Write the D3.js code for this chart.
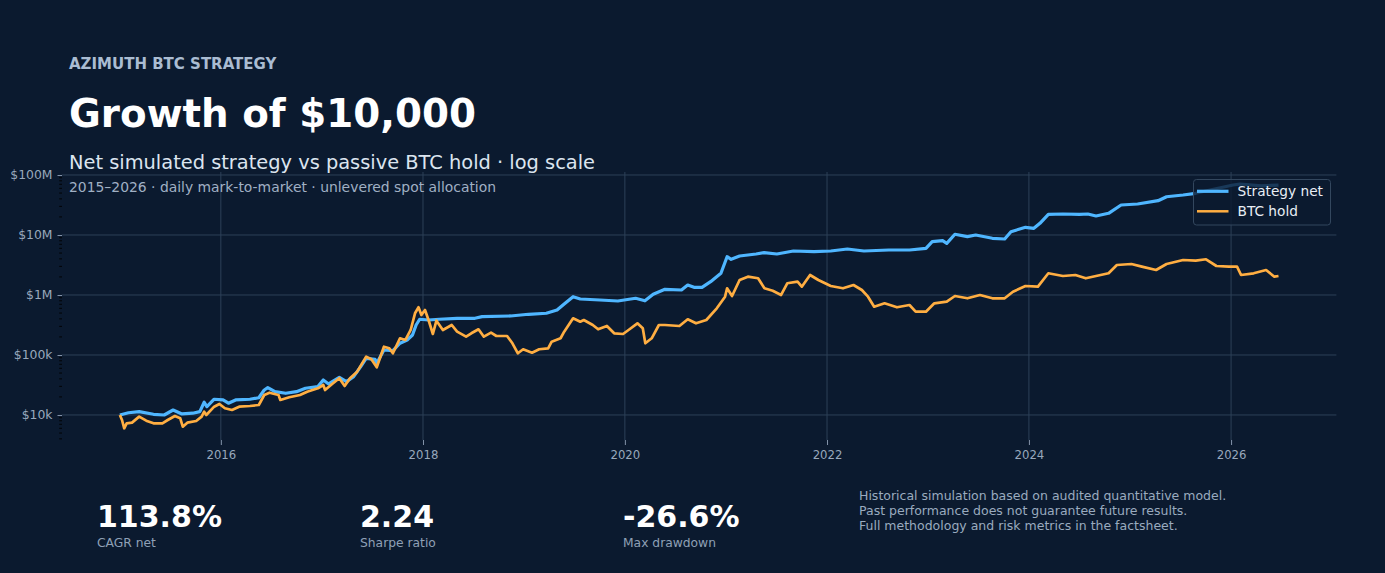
<!DOCTYPE html>
<html><head><meta charset="utf-8">
<script src="https://cdn.jsdelivr.net/npm/d3@7/dist/d3.min.js"></script>
<style>
html,body{margin:0;padding:0;background:#0b1a2f;}
svg{display:block;font-family:"DejaVu Sans",sans-serif;}
</style></head>
<body>
<svg id="c" width="1385" height="573"></svg>
<script>
// ---------- DATA ----------
const stratYears = [2015.000,2015.085,2015.191,2015.333,2015.439,2015.527,2015.615,2015.722,2015.792,2015.835,2015.862,2015.934,2016.022,2016.075,2016.146,2016.287,2016.375,2016.429,2016.464,2016.535,2016.641,2016.747,2016.836,2016.959,2017.012,2017.065,2017.171,2017.242,2017.313,2017.383,2017.437,2017.525,2017.542,2017.613,2017.702,2017.772,2017.843,2017.896,2017.932,2017.967,2018.055,2018.161,2018.338,2018.515,2018.585,2018.868,2019.045,2019.222,2019.328,2019.399,2019.487,2019.558,2019.752,2019.930,2020.106,2020.198,2020.280,2020.396,2020.559,2020.621,2020.683,2020.762,2020.847,2020.949,2021.010,2021.050,2021.134,2021.297,2021.376,2021.503,2021.667,2021.871,2022.037,2022.201,2022.366,2022.612,2022.817,2022.980,2023.042,2023.145,2023.186,2023.267,2023.391,2023.473,2023.638,2023.760,2023.822,2023.966,2024.049,2024.109,2024.192,2024.336,2024.500,2024.582,2024.663,2024.787,2024.911,2025.074,2025.277,2025.361,2025.525,2025.650,2025.759,2026.020,2026.089,2026.300,2026.470];
const stratValues = [10000,10900,11350,10270,10000,12100,10400,10700,11350,16300,13750,18300,17800,15700,17800,18300,19400,26100,28500,24500,23000,24500,27900,29700,38300,32900,42500,35900,43500,63800,88100,84700,72700,121000,118000,157000,178000,215000,316000,394000,383000,394000,409000,409000,435000,447000,477000,496000,562000,708000,937000,857000,825000,794000,881000,800000,1030000,1245000,1212000,1468000,1343000,1343000,1667000,2300000,4345000,3937000,4467000,4823000,5070000,4823000,5410000,5270000,5410000,5845000,5410000,5623000,5623000,6000000,7730000,8040000,7270000,10280000,9380000,10000000,8810000,8580000,11350000,13430000,12930000,15670000,22130000,22390000,22130000,22390000,20730000,23000000,31620000,32850000,37300000,43450000,46420000,49550000,54700000,68100000,70800000,66000000,68000000];

const btcYears = [2015.000,2015.021,2015.043,2015.067,2015.120,2015.191,2015.261,2015.333,2015.421,2015.474,2015.545,2015.598,2015.623,2015.668,2015.756,2015.810,2015.835,2015.856,2015.934,2015.986,2016.040,2016.110,2016.181,2016.287,2016.375,2016.429,2016.481,2016.570,2016.588,2016.676,2016.782,2016.853,2016.959,2017.012,2017.030,2017.100,2017.171,2017.224,2017.277,2017.348,2017.437,2017.489,2017.542,2017.613,2017.666,2017.702,2017.772,2017.826,2017.878,2017.921,2017.956,2017.984,2018.020,2018.055,2018.098,2018.133,2018.197,2018.285,2018.338,2018.427,2018.479,2018.550,2018.603,2018.674,2018.727,2018.833,2018.886,2018.940,2018.992,2019.080,2019.151,2019.240,2019.275,2019.363,2019.399,2019.487,2019.558,2019.593,2019.682,2019.735,2019.822,2019.894,2019.982,2020.036,2020.124,2020.177,2020.202,2020.265,2020.336,2020.396,2020.539,2020.621,2020.703,2020.805,2020.908,2020.990,2021.010,2021.059,2021.134,2021.216,2021.317,2021.380,2021.462,2021.545,2021.606,2021.708,2021.750,2021.832,2021.914,2022.037,2022.158,2022.262,2022.345,2022.406,2022.467,2022.570,2022.693,2022.817,2022.878,2022.980,2023.063,2023.186,2023.267,2023.391,2023.515,2023.638,2023.760,2023.842,2023.966,2024.089,2024.192,2024.336,2024.459,2024.562,2024.663,2024.787,2024.869,2025.013,2025.116,2025.257,2025.361,2025.525,2025.650,2025.752,2025.855,2025.977,2026.059,2026.099,2026.224,2026.347,2026.429,2026.470];
const btcValues = [10000,8250,6000,7270,7450,9380,8040,7270,7270,8250,9620,8810,6380,7450,7940,9380,11350,10000,13750,15250,12930,12120,13750,14130,14680,21540,23530,21540,17780,19720,21540,24450,27860,31620,26100,32850,40900,30430,40900,52700,93800,84700,62400,137500,129300,106700,189900,177800,261000,495500,623700,464200,562300,383000,223900,373500,261000,316200,244500,201800,230000,268000,201800,235500,207300,207300,156700,106700,124500,109200,124500,129300,166700,189900,244500,409000,359000,383000,316200,268000,304300,230000,223900,261000,337300,278600,156700,189900,316200,316200,304300,393700,337300,383000,599500,937000,1293000,962000,1778000,2018000,1899000,1293000,1180000,1000000,1567000,1667000,1375000,2154000,1778000,1413000,1293000,1468000,1212000,937000,638000,727000,623700,681000,527000,527000,727000,773000,962000,881000,1000000,881000,881000,1135000,1413000,1375000,2300000,2073000,2154000,1899000,2073000,2300000,3162000,3285000,2965000,2610000,3285000,3830000,3735000,3937000,3043000,2965000,2965000,2154000,2300000,2610000,2018000,2073000];

const seriesNames = ["Strategy net","BTC hold"];
const yTickValues = [1e4,1e5,1e6,1e7,1e8];
const yTickLabels = ["$10k","$100k","$1M","$10M","$100M"];
const xTickYears = [2016,2018,2020,2022,2024,2026];
const xTickLabels = ["2016","2018","2020","2022","2024","2026"];
const statValues = ["113.8%","2.24","-26.6%"];
const statLabels = ["CAGR net","Sharpe ratio","Max drawdown"];
const noteLines = ["Historical simulation based on audited quantitative model.","Past performance does not guarantee future results.","Full methodology and risk metrics in the factsheet."];

// ---------- HELPERS ----------
function yr(d){const y=Math.floor(d);const s=Date.UTC(y,0,1),e=Date.UTC(y+1,0,1);return new Date(s+(d-y)*(e-s));}

const svg = d3.select("#c");
const W=1385,H=573;
svg.append("rect").attr("width",W).attr("height",H).attr("fill","#0b1a2f");

const L=62,R=1336.4,T=172,B=440;
const allYears = stratYears.concat(btcYears);
const x0=d3.min(allYears), x1=d3.max(allYears), pad=(x1-x0)*0.05;
const x = d3.scaleUtc().domain([yr(x0-pad), yr(x1+pad)]).range([L,R]);
const y = d3.scaleLog().domain([Math.pow(10,3.583), Math.pow(10,8.05)]).range([B,T]);

const grid = svg.append("g");
grid.selectAll("line.h").data(yTickValues).join("line")
  .attr("x1",L).attr("x2",R).attr("y1",d=>y(d)).attr("y2",d=>y(d))
  .attr("stroke","#2d4058").attr("stroke-width",1);
grid.selectAll("line.v").data(xTickYears).join("line")
  .attr("x1",d=>x(yr(d))).attr("x2",d=>x(yr(d))).attr("y1",T).attr("y2",B)
  .attr("stroke","#2d4058").attr("stroke-width",1);

// y axis
const yAxis = d3.axisLeft(y).tickValues(yTickValues).tickFormat((d,i)=>yTickLabels[i]).tickSize(4.5).tickPadding(5);
const gy = svg.append("g").attr("transform",`translate(${L},0)`).call(yAxis);
gy.select(".domain").remove();
gy.selectAll(".tick line").attr("stroke","#8494aa");
gy.selectAll(".tick text").attr("fill","#98a8bc").attr("font-size","12.4px").attr("font-family","DejaVu Sans");
// minor ticks
const minor=[];
for(let e=3;e<=8;e++){for(let k=2;k<=9;k++){const v=k*Math.pow(10,e);const yy=y(v);if(yy<=B&&yy>=T)minor.push(v);}}
svg.append("g").selectAll("line").data(minor).join("line")
  .attr("x1",L-2.8).attr("x2",L).attr("y1",d=>y(d)).attr("y2",d=>y(d))
  .attr("stroke","#000").attr("stroke-width",0.9);

// x axis
const xAxis = d3.axisBottom(x).tickValues(xTickYears.map(yr)).tickFormat((d,i)=>xTickLabels[i]).tickSize(5).tickPadding(6);
const gx = svg.append("g").attr("transform",`translate(0,${B})`).call(xAxis);
gx.select(".domain").remove();
gx.selectAll(".tick line").attr("stroke","#8494aa");
gx.selectAll(".tick text").attr("fill","#98a8bc").attr("font-size","11.7px").attr("font-family","DejaVu Sans");

// lines
const line = d3.line().x(d=>x(yr(d[0]))).y(d=>y(d[1])).curve(d3.curveLinear);
const strat = stratYears.map((t,i)=>[t,stratValues[i]]);
const btc = btcYears.map((t,i)=>[t,btcValues[i]]);
svg.append("path").datum(strat).attr("d",line).attr("fill","none")
  .attr("stroke","#4fb6ff").attr("stroke-width",3.2).attr("stroke-linejoin","round");
svg.append("path").datum(btc).attr("d",line).attr("fill","none")
  .attr("stroke","#ffae42").attr("stroke-width",2.7).attr("stroke-linejoin","round");

// titles
svg.append("text").attr("x",69).attr("y",69).text("AZIMUTH BTC STRATEGY")
  .attr("font-size","15px").attr("font-weight","bold").attr("fill","#aabcd2");
svg.append("text").attr("x",69).attr("y",127).text("Growth of $10,000")
  .attr("font-size","38.8px").attr("font-weight","bold").attr("fill","#ffffff");
svg.append("text").attr("x",69).attr("y",169).text("Net simulated strategy vs passive BTC hold · log scale")
  .attr("font-size","19.4px").attr("fill","#dce5ef");
svg.append("text").attr("x",69).attr("y",192).text("2015–2026 · daily mark-to-market · unlevered spot allocation")
  .attr("font-size","13.9px").attr("fill","#a0b0c4");

// legend
const lg = svg.append("g");
lg.append("rect").attr("x",1193.5).attr("y",179.5).attr("width",137).attr("height",45.5).attr("rx",3)
  .attr("fill","#0b1a2f").attr("fill-opacity",0.8).attr("stroke","#33475e").attr("stroke-width",1);
const legColors=["#4fb6ff","#ffae42"], legW=[3.2,2.5];
seriesNames.forEach((n,i)=>{
  const yy=191.3+i*20;
  lg.append("line").attr("x1",1197).attr("x2",1228.5).attr("y1",yy).attr("y2",yy)
    .attr("stroke",legColors[i]).attr("stroke-width",legW[i]);
  lg.append("text").attr("x",1237.5).attr("y",yy+4.6).text(n)
    .attr("font-size","13.7px").attr("fill","#e8eef5");
});

// stats
const statX=[97,360,623];
statValues.forEach((v,i)=>{
  svg.append("text").attr("x",statX[i]).attr("y",527).text(v)
    .attr("font-size","30px").attr("font-weight","bold").attr("fill","#ffffff");
  svg.append("text").attr("x",statX[i]).attr("y",547).text(statLabels[i])
    .attr("font-size","12.3px").attr("fill","#8fa0b6");
});
noteLines.forEach((t,i)=>{
  svg.append("text").attr("x",859).attr("y",500+i*15).text(t)
    .attr("font-size","12.5px").attr("fill","#9aabbf");
});
</script>
</body></html>
